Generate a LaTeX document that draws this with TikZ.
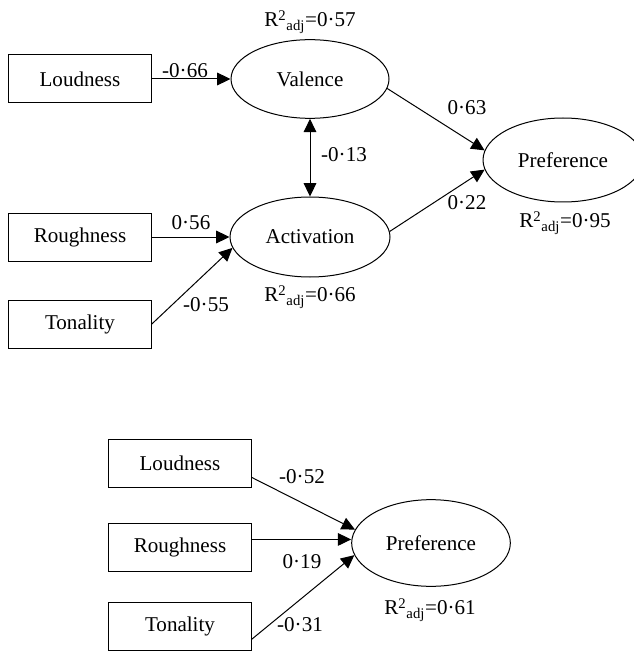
\documentclass[tikz,border=0pt]{standalone}
\usepackage{fontspec}
\setmainfont{Liberation Serif}
\usepackage{tikz}
\usetikzlibrary{shapes.geometric, arrows.meta, positioning}
\tikzset{
  varbox/.style ={rectangle, draw=black, line width=0.75pt, fill=white, inner sep=0pt,
                  minimum width=107pt, minimum height=36pt, font=\fontsize{15.8}{19}\selectfont},
  latent/.style ={ellipse, draw=black, line width=0.75pt, fill=white, inner sep=0pt,
                  minimum width=120pt, minimum height=60pt, font=\fontsize{15.8}{19}\selectfont},
  parr/.style   ={-{Triangle[length=10pt, width=9.5pt]}, line width=0.75pt, color=black},
  pdarr/.style  ={{Triangle[length=10pt, width=9.5pt]}-{Triangle[length=10pt, width=9.5pt]}, line width=0.75pt, color=black},
  plbl/.style   ={font=\fontsize{15.8}{19}\selectfont, inner sep=0pt},
}
\newcommand{\radj}[1]{R\textsuperscript{2}\textsubscript{adj}=#1}

\begin{document}
\begin{tikzpicture}[x=0.75pt, y=-0.75pt]
  \useasboundingbox (0,0) rectangle (633,652);
  % upper model
  \node[varbox] (loud)  at (80, 79)   {Loudness};
  \node[varbox] (rough) at (80, 237)  {Roughness};
  \node[varbox] (ton)   at (80, 324)  {Tonality};
  \node[latent, minimum width=118.5pt, minimum height=59pt] (val) at (310, 79)  {Valence};
  \node[latent] (act)   at (310, 237) {Activation};
  \node[latent, minimum height=63pt] (pref) at (563, 160) {Preference};
  \draw[parr]  (loud.east) -- (val.west);
  \draw[parr]  (rough.east) -- (act.west);
  \draw[parr]  (ton.east) -- (act.188);
  \draw[pdarr] (val.south) -- (act.north);
  \draw[parr]  (val.-7) -- (pref.173);
  \draw[parr]  (act.4) -- (pref.187);
  \node[plbl] at (185, 71)  {-0·66};
  \node[plbl] at (191, 223) {0·56};
  \node[plbl] at (206, 305) {-0·55};
  \node[plbl] at (344, 155) {-0·13};
  \node[plbl] at (467, 108) {0·63};
  \node[plbl] at (467, 203) {0·22};
  \node[plbl] at (310, 22)  {\radj{0·57}};
  \node[plbl] at (310, 297) {\radj{0·66}};
  \node[plbl] at (565, 223) {\radj{0·95}};
  % lower model
  \node[varbox] (loud2)  at (180, 463.5) {Loudness};
  \node[varbox] (rough2) at (180, 547)   {Roughness};
  \node[varbox] (ton2)   at (180, 626.5) {Tonality};
  \node[latent, minimum width=119pt, minimum height=65pt] (pref2) at (431, 543) {Preference};
  \draw[parr] (loud2.-11.5) -- (pref2.170);
  \draw[parr] (rough2.6) -- (rough2.6 -| pref2.west);
  \draw[parr] (ton2.-10) -- (pref2.189);
  \node[plbl] at (302, 477) {-0·52};
  \node[plbl] at (302, 562) {0·19};
  \node[plbl] at (300, 625) {-0·31};
  \node[plbl] at (430, 610) {\radj{0·61}};
\end{tikzpicture}
\end{document}
